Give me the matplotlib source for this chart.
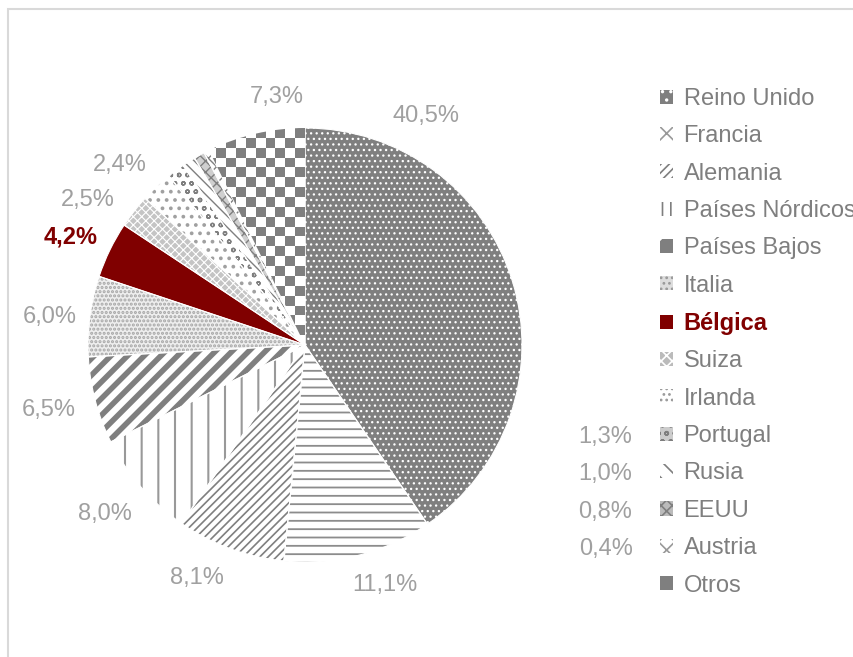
import numpy as np
import matplotlib
matplotlib.use("Agg")
import matplotlib.pyplot as plt
from matplotlib.colors import ListedColormap
from matplotlib.patches import Rectangle, Patch

plt.rcParams['font.family'] = ['Liberation Sans', 'DejaVu Sans']
plt.rcParams['hatch.linewidth'] = 1.2

# data (clockwise from 12 o'clock)
paises = ["Reino Unido", "Francia", "Alemania", "Países Nórdicos", "Países Bajos",
          "Italia", "Bélgica", "Suiza", "Irlanda", "Portugal", "Rusia", "EEUU",
          "Austria", "Otros"]
cuota = [40.5, 11.1, 8.1, 8.0, 6.5, 6.0, 4.2, 2.5, 2.4, 1.3, 1.0, 0.8, 0.4, 7.3]

GRAY = "#7f7f7f"
RED = "#800000"
LBL = "#a0a0a0"

# fill, hatch colour, hatch, hatch linewidth
styles = [
    (GRAY, "white", "...", 0.9),
    ("white", "#8c8c8c", "--", 1.3),
    ("white", GRAY, "////", 1.2),
    ("white", "#999999", "|", 1.5),
    ("white", GRAY, "//", 4.0),
    ("#eeeeee", "#a6a6a6", "....", 1.5),
    (RED, RED, "", 1.0),
    ("#c4c4c4", "white", "xxxx", 0.8),
    ("white", "#a0a0a0", "..", 1.5),
    ("white", GRAY, "oo", 1.0),
    ("white", GRAY, "\\\\\\", 1.0),
    ("#cfcfcf", GRAY, "xxx", 1.0),
    ("white", GRAY, "xx", 1.0),
    ("white", GRAY, "", 1.0),
]

W, H = 854, 657
fig = plt.figure(figsize=(W / 100, H / 100), dpi=100)
fig.patch.set_facecolor("white")

# light frame (only top and left visible)
fig.add_artist(Rectangle((8 / W, -0.1), 1.2, 1 - 9 / H + 0.1, transform=fig.transFigure,
                         facecolor="none", edgecolor="#d9d9d9", lw=1.5))

cx, cy, r = 305, H - 345, 217
ax = fig.add_axes([(cx - r) / W, (cy - r) / H, 2 * r / W, 2 * r / H])
wedges, _ = ax.pie(cuota, startangle=90, counterclock=False, radius=1,
                   wedgeprops=dict(linewidth=0))
for w, (fc, hc, hatch, hlw) in zip(wedges, styles):
    w.set_facecolor(fc)
    w.set_edgecolor(hc)
    w.set_hatch(hatch)
    try:
        w.set_hatch_linewidth(hlw)
    except AttributeError:
        pass

# checkerboard for "Otros"
checker = np.indices((44, 44)).sum(axis=0) % 2
im = ax.imshow(checker, cmap=ListedColormap(["white", GRAY]), extent=[-1, 1, -1, 1],
               interpolation="nearest", zorder=wedges[-1].get_zorder() + 0.1)
im.set_clip_path(wedges[-1])

# thin white separators
ax.pie(cuota, startangle=90, counterclock=False, radius=1,
       wedgeprops=dict(facecolor="none", edgecolor="white", linewidth=0.8))
ax.set_xlim(-1, 1)
ax.set_ylim(-1, 1)
ax.axis("off")

# percentage labels (pixel positions of label centres)
lbl_px = [(426, 116), (385, 585), (197, 578), (105, 514), (49, 410), (50, 317),
          (71, 237), (88, 200), (120, 165), (605, 437), (605, 474), (605, 512),
          (606, 549), (277, 97)]
for i, (v, (x, y)) in enumerate(zip(cuota, lbl_px)):
    txt = f"{v:.1f}".replace(".", ",") + "%"
    bold = paises[i] == "Bélgica"
    fig.text(x / W, 1 - y / H, txt, ha="center", va="center", fontsize=17,
             color=RED if bold else LBL, fontweight="bold" if bold else "normal")

# legend keys: small patterned squares
key_styles = [
    (GRAY, "white", ".."), ("white", "#999999", "xx"), ("white", GRAY, "////"),
    ("white", GRAY, "||"), (GRAY, "white", "/"), ("#dddddd", "#999999", "..."),
    (RED, RED, ""), ("#bbbbbb", "white", "xxx"), ("white", "#999999", "..."),
    ("#cccccc", GRAY, "oo"), ("white", GRAY, "\\\\"), ("#bbbbbb", GRAY, "xxx"),
    ("white", "#999999", "xx"), (GRAY, "white", "+"),
]
handles = [Patch(facecolor=fc, edgecolor=hc, hatch=hatch, linewidth=0)
           for fc, hc, hatch in key_styles]

leg = fig.legend(handles, paises, loc="upper left", bbox_to_anchor=(660 / W, 1 - 88 / H),
                 frameon=False, fontsize=17, handlelength=0.55, handleheight=0.55,
                 handletextpad=0.45, labelspacing=0.65, borderpad=0, borderaxespad=0)
for t, p in zip(leg.get_texts(), paises):
    if p == "Bélgica":
        t.set_color(RED)
        t.set_fontweight("bold")
    else:
        t.set_color(GRAY)

fig.savefig("out.png", dpi=100, facecolor="white")
